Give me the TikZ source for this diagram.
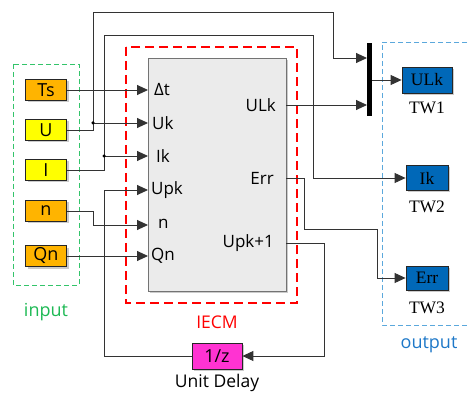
\documentclass[tikz,border=0pt]{standalone}
\usepackage{fontspec}
\setmainfont{Open Sans}
\newfontfamily\twfont{Liberation Serif}
\usetikzlibrary{arrows.meta,shadows}
\definecolor{orng}{HTML}{FFB400}
\definecolor{yel}{HTML}{FFFF00}
\definecolor{twblue}{HTML}{0068B8}
\definecolor{mag}{HTML}{FF33D2}
\definecolor{grn}{HTML}{33C46A}
\definecolor{grntxt}{HTML}{1DB954}
\definecolor{lblue}{HTML}{5BA8DC}
\definecolor{otxt}{HTML}{1E78C8}
\definecolor{blkgray}{HTML}{EBEBEB}
\begin{document}
\begin{tikzpicture}[x=1pt,y=-1pt,
  txt/.style={font=\fontsize{17}{17}\selectfont},
  shad/.style={drop shadow={shadow xshift=2pt,shadow yshift=-2pt,fill=black!45,opacity=0.45}},
  inblk/.style={draw=black!85, line width=0.8pt, minimum width=41pt, minimum height=21pt, inner sep=0pt, font=\fontsize{18}{18}\selectfont, shad},
  twblk/.style={draw=black!85, line width=0.8pt, fill=twblue, inner sep=0pt, font=\twfont\fontsize{17.5}{17.5}\selectfont, shad},
  twlbl/.style={font=\twfont\fontsize{17.5}{17.5}\selectfont},
  port/.style={txt, inner sep=0pt},
  conn/.style={draw=black!80, line width=0.9pt},
  arr/.style={conn, -{Triangle[length=11pt,width=10pt]}},
  dot/.style={circle, fill=black, inner sep=0pt, minimum size=3.5pt}
]
\useasboundingbox (0,0) rectangle (468,395);

% group frames
\draw[grn, line width=0.9pt, dash pattern=on 5pt off 3pt] (13,64) rectangle (79,285);
\node[text=grntxt, font=\fontsize{18}{18}\selectfont] (inlbl) at (46,312) {input};
\draw[red, line width=1.3pt, dash pattern=on 9pt off 5pt] (126,47) rectangle (297,303);
\node[text=red, font=\fontsize{17.5}{17.5}\selectfont] (iecmlbl) at (217,322) {IECM};
\draw[lblue, line width=0.9pt, dash pattern=on 5pt off 3pt] (475,42) -- (382,42) -- (382,325) -- (475,325);
\node[text=otxt, font=\fontsize{18}{18}\selectfont] (outlbl) at (429,345) {output};

% main block
\node[draw=black!55, fill=blkgray, line width=0.8pt, minimum width=138pt, minimum height=233pt, inner sep=0pt, shad] (iecm) at (217,174.5) {};

% inputs
\node[inblk, fill=orng] (ts) at (46,90) {Ts};
\node[inblk, fill=yel] (u) at (46,130) {U};
\node[inblk, fill=yel] (i) at (46,170) {I};
\node[inblk, fill=orng] (n) at (46,211) {n};
\node[inblk, fill=orng] (qn) at (46,256) {Qn};

% port labels
\node[port, anchor=west] (ldt) at (154,90) {Δt};
\node[port, anchor=west] (luk) at (152,123) {Uk};
\node[port, anchor=west] (lik) at (156,156) {Ik};
\node[port, anchor=west] (lupk) at (151,190) {Upk};
\node[port, anchor=west] (ln) at (158,224) {n};
\node[port, anchor=west] (lqn) at (151,256) {Qn};
\node[port, anchor=east] (lulk) at (276,105) {ULk};
\node[port, anchor=east] (lerr) at (274,178) {Err};
\node[port, anchor=east] (lupk1) at (274,243) {Upk+1};

% port coordinates
\coordinate (pdt) at (148,90);
\coordinate (puk) at (148,123);
\coordinate (pik) at (148,156);
\coordinate (pupk) at (148,190);
\coordinate (pn) at (148,225);
\coordinate (pqn) at (148,256);
\coordinate (qulk) at (286,105);
\coordinate (qerr) at (286,178);
\coordinate (qupk1) at (286,243);

% mux and outputs
\node[fill=black, minimum width=5pt, minimum height=73pt, inner sep=0pt] (mux) at (369.5,80) {};
\coordinate (m1) at (367,58);
\coordinate (m2) at (367,105);
\node[twblk, minimum width=50pt, minimum height=26pt] (tw1) at (427,80) {ULk};
\node[twlbl] (tw1l) at (427,108) {TW1};
\node[twblk, minimum width=42pt, minimum height=25pt] (tw2) at (427,178) {Ik};
\node[twlbl] (tw2l) at (427,207) {TW2};
\node[twblk, minimum width=42pt, minimum height=24pt] (tw3) at (427,278) {Err};
\node[twlbl] (tw3l) at (427,308) {TW3};

% unit delay
\node[draw=black!85, line width=0.8pt, fill=mag, minimum width=50pt, minimum height=26pt, inner sep=0pt, font=\fontsize{18}{18}\selectfont, shad] (dly) at (217,356) {1/z};
\node[font=\fontsize{17.5}{17.5}\selectfont] (dlyl) at (217,383) {Unit Delay};

% junctions
\coordinate (ju) at (93,123);
\coordinate (ji) at (104,156);
\coordinate (cupk) at (104,190);

% connectors
\draw[arr] (ts.east) -- (pdt);
\draw[conn] (u.east) -| (ju);
\draw[arr] (ju) -- (puk);
\draw[arr] (ju) -- (93,12) -- (333,12) -- (333,58) -- (m1);
\draw[conn] (i.east) -| (ji);
\draw[arr] (ji) -- (pik);
\draw[arr] (ji) -- (104,35) -- (313,35) -- (313,178) -- (tw2.west);
\draw[arr] (n.east) -- (93,211) -- (93,225) -- (pn);
\draw[arr] (qn.east) -- (pqn);
\draw[arr] (dly.west) -| (cupk) -- (pupk);
\draw[arr] (qulk) -- (m2);
\draw[arr] (mux.east) -- (tw1.west);
\draw[arr] (qerr) -- (304,178) -- (304,229) -- (377,229) -- (377,278) -- (tw3.west);
\draw[arr] (qupk1) -- (324,243) -- (324,356) -- (dly.east);
\node[dot] (dju) at (ju) {};
\node[dot] (dji) at (ji) {};
\end{tikzpicture}
\end{document}
